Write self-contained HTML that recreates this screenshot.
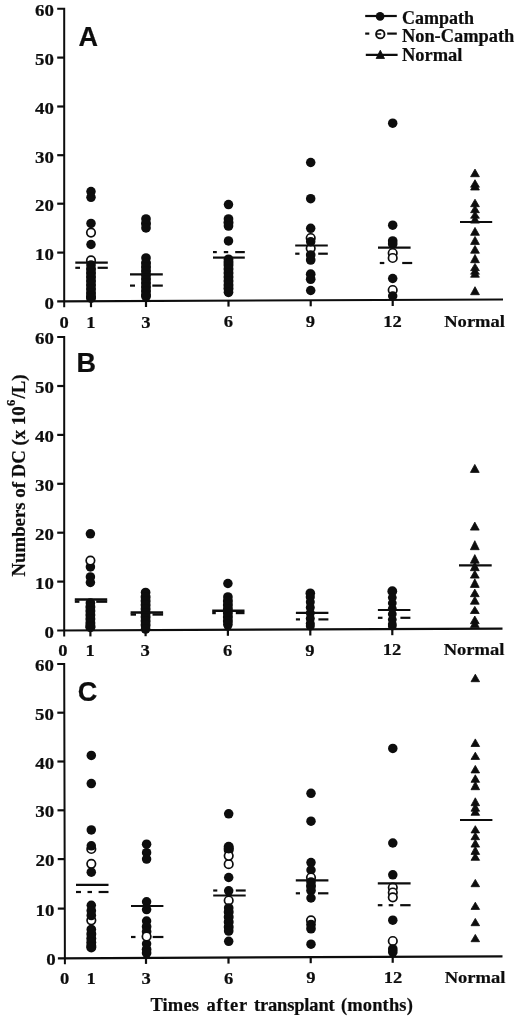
<!DOCTYPE html>
<html><head><meta charset="utf-8"><title>Figure</title>
<style>
html,body{margin:0;padding:0;background:#fff}
svg{display:block}
text{font-family:"Liberation Serif","DejaVu Serif",serif;font-weight:bold;fill:#0d0d0d;stroke:#0d0d0d;stroke-width:0.2px}
.pl{font-family:"Liberation Sans","DejaVu Sans",sans-serif;font-weight:bold}
</style></head><body>
<svg width="520" height="1020" viewBox="0 0 520 1020">
<rect width="520" height="1020" fill="#fff"/>
<g id="panelA">
<path d="M57.2 8.8H64.2L64.2 307.3" stroke="#0d0d0d" stroke-width="2.0" fill="none" stroke-linejoin="miter"/>
<path d="M57.2 301.3L503.0 299.5" stroke="#0d0d0d" stroke-width="2.2" fill="none"/>
<path d="M57.2 57.6H64.2" stroke="#0d0d0d" stroke-width="2.2" fill="none"/>
<path d="M57.2 106.5H64.2" stroke="#0d0d0d" stroke-width="2.2" fill="none"/>
<path d="M57.2 155.2H64.2" stroke="#0d0d0d" stroke-width="2.2" fill="none"/>
<path d="M57.2 203.7H64.2" stroke="#0d0d0d" stroke-width="2.2" fill="none"/>
<path d="M57.2 252.6H64.2" stroke="#0d0d0d" stroke-width="2.2" fill="none"/>
<text transform="translate(53.9 16.3) scale(1.08 1)" font-size="17.5" text-anchor="end" >60</text>
<text transform="translate(53.9 65.1) scale(1.08 1)" font-size="17.5" text-anchor="end" >50</text>
<text transform="translate(53.9 114.0) scale(1.08 1)" font-size="17.5" text-anchor="end" >40</text>
<text transform="translate(53.9 162.7) scale(1.08 1)" font-size="17.5" text-anchor="end" >30</text>
<text transform="translate(53.9 211.2) scale(1.08 1)" font-size="17.5" text-anchor="end" >20</text>
<text transform="translate(53.9 260.1) scale(1.08 1)" font-size="17.5" text-anchor="end" >10</text>
<text transform="translate(53.9 308.8) scale(1.08 1)" font-size="17.5" text-anchor="end" >0</text>
<path d="M91.0 301.2V307.2" stroke="#0d0d0d" stroke-width="2.2"/>
<path d="M146.0 301.0V307.0" stroke="#0d0d0d" stroke-width="2.2"/>
<path d="M228.5 300.6V306.6" stroke="#0d0d0d" stroke-width="2.2"/>
<path d="M310.7 300.3V306.3" stroke="#0d0d0d" stroke-width="2.2"/>
<path d="M392.7 300.0V306.0" stroke="#0d0d0d" stroke-width="2.2"/>
<text class="pl" x="78.4" y="46" font-size="27">A</text>
<text transform="translate(64.2 327.9) scale(1.06 1)" font-size="17.5" text-anchor="middle" >0</text>
<text transform="translate(90.8 327.8) scale(1.06 1)" font-size="17.5" text-anchor="middle" >1</text>
<text transform="translate(145.8 327.6) scale(1.06 1)" font-size="17.5" text-anchor="middle" >3</text>
<text transform="translate(228.3 327.4) scale(1.06 1)" font-size="17.5" text-anchor="middle" >6</text>
<text transform="translate(310.5 327.1) scale(1.06 1)" font-size="17.5" text-anchor="middle" >9</text>
<text transform="translate(392.5 326.9) scale(1.06 1)" font-size="17.5" text-anchor="middle" >12</text>
<text transform="translate(474.6 326.6) scale(1.06 1)" font-size="17.5" text-anchor="middle" >Normal</text>
<circle cx="91.0" cy="191.6" r="4.75" fill="#0d0d0d"/>
<circle cx="91.0" cy="197.3" r="4.75" fill="#0d0d0d"/>
<circle cx="91.0" cy="223.4" r="4.75" fill="#0d0d0d"/>
<circle cx="91.0" cy="244.5" r="4.75" fill="#0d0d0d"/>
<circle cx="91.0" cy="232.6" r="4.25" fill="#fff" stroke="#0d0d0d" stroke-width="1.7"/>
<circle cx="91.0" cy="260.4" r="4.25" fill="#fff" stroke="#0d0d0d" stroke-width="1.7"/>
<circle cx="91.0" cy="265.0" r="4.85" fill="#0d0d0d"/>
<circle cx="91.0" cy="269.0" r="5.0" fill="#0d0d0d"/>
<circle cx="91.0" cy="273.0" r="5.0" fill="#0d0d0d"/>
<circle cx="91.0" cy="277.0" r="5.0" fill="#0d0d0d"/>
<circle cx="91.0" cy="281.0" r="5.0" fill="#0d0d0d"/>
<circle cx="91.0" cy="285.0" r="5.0" fill="#0d0d0d"/>
<circle cx="91.0" cy="289.0" r="5.0" fill="#0d0d0d"/>
<circle cx="91.0" cy="293.0" r="5.0" fill="#0d0d0d"/>
<circle cx="91.0" cy="296.5" r="5.0" fill="#0d0d0d"/>
<circle cx="91.0" cy="298.0" r="5.0" fill="#0d0d0d"/>
<path d="M75.3 262.7H107.8" stroke="#0d0d0d" stroke-width="2.2" fill="none"/>
<path d="M75.3 267.8H80.0" stroke="#0d0d0d" stroke-width="2.2" fill="none"/>
<path d="M97.6 267.8H107.8" stroke="#0d0d0d" stroke-width="2.2" fill="none"/>
<circle cx="146.0" cy="219.0" r="4.85" fill="#0d0d0d"/>
<circle cx="146.0" cy="223.5" r="5.0" fill="#0d0d0d"/>
<circle cx="146.0" cy="227.9" r="4.85" fill="#0d0d0d"/>
<circle cx="146.0" cy="258.0" r="4.85" fill="#0d0d0d"/>
<circle cx="146.0" cy="263.0" r="5.0" fill="#0d0d0d"/>
<circle cx="146.0" cy="267.0" r="5.0" fill="#0d0d0d"/>
<circle cx="146.0" cy="271.0" r="5.0" fill="#0d0d0d"/>
<circle cx="146.0" cy="275.0" r="5.0" fill="#0d0d0d"/>
<circle cx="146.0" cy="279.0" r="5.0" fill="#0d0d0d"/>
<circle cx="146.0" cy="283.0" r="5.0" fill="#0d0d0d"/>
<circle cx="146.0" cy="287.0" r="5.0" fill="#0d0d0d"/>
<circle cx="146.0" cy="291.0" r="5.0" fill="#0d0d0d"/>
<circle cx="146.0" cy="295.0" r="5.0" fill="#0d0d0d"/>
<circle cx="146.0" cy="296.5" r="4.85" fill="#0d0d0d"/>
<path d="M130.0 274.4H162.8" stroke="#0d0d0d" stroke-width="2.2" fill="none"/>
<path d="M130.0 285.6H135.0" stroke="#0d0d0d" stroke-width="2.2" fill="none"/>
<path d="M152.3 285.6H162.8" stroke="#0d0d0d" stroke-width="2.2" fill="none"/>
<circle cx="228.5" cy="204.6" r="4.75" fill="#0d0d0d"/>
<circle cx="228.5" cy="219.0" r="4.85" fill="#0d0d0d"/>
<circle cx="228.5" cy="222.5" r="5.0" fill="#0d0d0d"/>
<circle cx="228.5" cy="226.0" r="4.85" fill="#0d0d0d"/>
<circle cx="228.5" cy="240.9" r="4.75" fill="#0d0d0d"/>
<circle cx="228.5" cy="259.3" r="4.85" fill="#0d0d0d"/>
<circle cx="228.5" cy="262.0" r="5.0" fill="#0d0d0d"/>
<circle cx="228.5" cy="265.0" r="5.0" fill="#0d0d0d"/>
<circle cx="228.5" cy="269.0" r="5.0" fill="#0d0d0d"/>
<circle cx="228.5" cy="273.0" r="5.0" fill="#0d0d0d"/>
<circle cx="228.5" cy="277.0" r="5.0" fill="#0d0d0d"/>
<circle cx="228.5" cy="281.0" r="5.0" fill="#0d0d0d"/>
<circle cx="228.5" cy="285.0" r="5.0" fill="#0d0d0d"/>
<circle cx="228.5" cy="288.5" r="5.0" fill="#0d0d0d"/>
<circle cx="228.5" cy="292.3" r="4.85" fill="#0d0d0d"/>
<path d="M213.0 252.1H216.8" stroke="#0d0d0d" stroke-width="2.2" fill="none"/>
<path d="M223.8 252.1H228.2" stroke="#0d0d0d" stroke-width="2.2" fill="none"/>
<path d="M235.2 252.1H244.8" stroke="#0d0d0d" stroke-width="2.2" fill="none"/>
<path d="M213.0 257.6H244.8" stroke="#0d0d0d" stroke-width="2.2" fill="none"/>
<circle cx="310.7" cy="162.5" r="4.75" fill="#0d0d0d"/>
<circle cx="310.7" cy="198.7" r="4.75" fill="#0d0d0d"/>
<circle cx="310.7" cy="228.3" r="4.75" fill="#0d0d0d"/>
<circle cx="310.7" cy="238.0" r="4.25" fill="#fff" stroke="#0d0d0d" stroke-width="1.7"/>
<circle cx="310.7" cy="248.3" r="4.25" fill="#fff" stroke="#0d0d0d" stroke-width="1.7"/>
<circle cx="310.7" cy="241.7" r="4.75" fill="#0d0d0d"/>
<circle cx="310.7" cy="255.0" r="4.85" fill="#0d0d0d"/>
<circle cx="310.7" cy="260.0" r="4.85" fill="#0d0d0d"/>
<circle cx="310.7" cy="274.2" r="4.85" fill="#0d0d0d"/>
<circle cx="310.7" cy="279.2" r="4.85" fill="#0d0d0d"/>
<circle cx="310.7" cy="290.5" r="4.75" fill="#0d0d0d"/>
<path d="M295.2 245.5H327.8" stroke="#0d0d0d" stroke-width="2.2" fill="none"/>
<path d="M295.2 253.7H299.5" stroke="#0d0d0d" stroke-width="2.2" fill="none"/>
<path d="M318.2 253.7H327.8" stroke="#0d0d0d" stroke-width="2.2" fill="none"/>
<circle cx="392.7" cy="123.2" r="4.75" fill="#0d0d0d"/>
<circle cx="392.7" cy="225.2" r="4.75" fill="#0d0d0d"/>
<circle cx="392.7" cy="241.0" r="4.85" fill="#0d0d0d"/>
<circle cx="392.7" cy="244.0" r="4.85" fill="#0d0d0d"/>
<circle cx="392.7" cy="278.5" r="4.75" fill="#0d0d0d"/>
<circle cx="392.7" cy="253.0" r="4.25" fill="#fff" stroke="#0d0d0d" stroke-width="1.7"/>
<circle cx="392.7" cy="258.0" r="4.25" fill="#fff" stroke="#0d0d0d" stroke-width="1.7"/>
<circle cx="392.7" cy="290.0" r="4.25" fill="#fff" stroke="#0d0d0d" stroke-width="1.7"/>
<circle cx="392.7" cy="296.0" r="4.75" fill="#0d0d0d"/>
<path d="M378.0 247.7H410.6" stroke="#0d0d0d" stroke-width="2.2" fill="none"/>
<path d="M379.8 263.0H384.3" stroke="#0d0d0d" stroke-width="2.2" fill="none"/>
<path d="M402.2 263.0H412.2" stroke="#0d0d0d" stroke-width="2.2" fill="none"/>
<path d="M475.0 169.1L479.4 176.7L470.6 176.7Z" fill="#0d0d0d" stroke="#0d0d0d" stroke-width="0.8" stroke-linejoin="round"/>
<path d="M475.0 179.7L479.4 187.2L470.6 187.2Z" fill="#0d0d0d" stroke="#0d0d0d" stroke-width="0.8" stroke-linejoin="round"/>
<path d="M475.0 182.4L479.4 190.0L470.6 190.0Z" fill="#0d0d0d" stroke="#0d0d0d" stroke-width="0.8" stroke-linejoin="round"/>
<path d="M475.0 199.2L479.4 206.7L470.6 206.7Z" fill="#0d0d0d" stroke="#0d0d0d" stroke-width="0.8" stroke-linejoin="round"/>
<path d="M475.0 205.4L479.4 212.7L470.6 212.7Z" fill="#0d0d0d" stroke="#0d0d0d" stroke-width="0.8" stroke-linejoin="round"/>
<path d="M475.0 211.4L479.4 218.2L470.6 218.2Z" fill="#0d0d0d" stroke="#0d0d0d" stroke-width="0.8" stroke-linejoin="round"/>
<path d="M475.0 215.4L479.4 223.1L470.6 223.1Z" fill="#0d0d0d" stroke="#0d0d0d" stroke-width="0.8" stroke-linejoin="round"/>
<path d="M475.0 227.4L479.4 235.3L470.6 235.3Z" fill="#0d0d0d" stroke="#0d0d0d" stroke-width="0.8" stroke-linejoin="round"/>
<path d="M475.0 236.4L479.4 244.4L470.6 244.4Z" fill="#0d0d0d" stroke="#0d0d0d" stroke-width="0.8" stroke-linejoin="round"/>
<path d="M475.0 245.4L479.4 253.2L470.6 253.2Z" fill="#0d0d0d" stroke="#0d0d0d" stroke-width="0.8" stroke-linejoin="round"/>
<path d="M475.0 254.4L479.4 262.7L470.6 262.7Z" fill="#0d0d0d" stroke="#0d0d0d" stroke-width="0.8" stroke-linejoin="round"/>
<path d="M475.0 263.4L479.4 270.7L470.6 270.7Z" fill="#0d0d0d" stroke="#0d0d0d" stroke-width="0.8" stroke-linejoin="round"/>
<path d="M475.0 267.9L479.4 274.2L470.6 274.2Z" fill="#0d0d0d" stroke="#0d0d0d" stroke-width="0.8" stroke-linejoin="round"/>
<path d="M475.0 270.4L479.4 277.2L470.6 277.2Z" fill="#0d0d0d" stroke="#0d0d0d" stroke-width="0.8" stroke-linejoin="round"/>
<path d="M475.0 286.7L479.4 294.7L470.6 294.7Z" fill="#0d0d0d" stroke="#0d0d0d" stroke-width="0.8" stroke-linejoin="round"/>
<path d="M460.0 222.0H492.2" stroke="#0d0d0d" stroke-width="2.2" fill="none"/>
</g>
<g id="legend">
<path d="M365.2 16.0H396.8" stroke="#0d0d0d" stroke-width="2.2" fill="none"/>
<circle cx="380.1" cy="16.4" r="4.3" fill="#0d0d0d"/>
<path d="M365.2 33.6H369.3" stroke="#0d0d0d" stroke-width="2.2" fill="none"/>
<path d="M387.2 33.6H396.8" stroke="#0d0d0d" stroke-width="2.2" fill="none"/>
<circle cx="380.3" cy="34.2" r="4.2" fill="#fff" stroke="#0d0d0d" stroke-width="1.9"/><path d="M376.8 34H381.2" stroke="#0d0d0d" stroke-width="1.5"/>
<path d="M365.8 54.9H397.6" stroke="#0d0d0d" stroke-width="2.2" fill="none"/>
<path d="M380.3 50.2L384.5 58.5L376.1 58.5Z" fill="#0d0d0d" stroke="#0d0d0d" stroke-width="0.8" stroke-linejoin="round"/>
<text transform="translate(401.9 24.1) scale(1.0 1)" font-size="18" text-anchor="start" textLength="72" lengthAdjust="spacingAndGlyphs">Campath</text>
<text transform="translate(401.9 41.5) scale(1.0 1)" font-size="18" text-anchor="start" textLength="112.4" lengthAdjust="spacingAndGlyphs">Non-Campath</text>
<text transform="translate(401.9 61.1) scale(1.0 1)" font-size="18" text-anchor="start" textLength="60.5" lengthAdjust="spacingAndGlyphs">Normal</text>
</g>
<g id="panelB">
<path d="M57.2 337.1H64.2L64.2 636.5" stroke="#0d0d0d" stroke-width="2.0" fill="none" stroke-linejoin="miter"/>
<path d="M57.2 630.5L502.5 628.7" stroke="#0d0d0d" stroke-width="2.2" fill="none"/>
<path d="M57.2 386.0H64.2" stroke="#0d0d0d" stroke-width="2.2" fill="none"/>
<path d="M57.2 434.9H64.2" stroke="#0d0d0d" stroke-width="2.2" fill="none"/>
<path d="M57.2 483.8H64.2" stroke="#0d0d0d" stroke-width="2.2" fill="none"/>
<path d="M57.2 532.7H64.2" stroke="#0d0d0d" stroke-width="2.2" fill="none"/>
<path d="M57.2 581.6H64.2" stroke="#0d0d0d" stroke-width="2.2" fill="none"/>
<text transform="translate(53.9 344.1) scale(1.08 1)" font-size="17.5" text-anchor="end" >60</text>
<text transform="translate(53.9 393.0) scale(1.08 1)" font-size="17.5" text-anchor="end" >50</text>
<text transform="translate(53.9 441.9) scale(1.08 1)" font-size="17.5" text-anchor="end" >40</text>
<text transform="translate(53.9 490.8) scale(1.08 1)" font-size="17.5" text-anchor="end" >30</text>
<text transform="translate(53.9 539.7) scale(1.08 1)" font-size="17.5" text-anchor="end" >20</text>
<text transform="translate(53.9 588.6) scale(1.08 1)" font-size="17.5" text-anchor="end" >10</text>
<text transform="translate(53.9 637.5) scale(1.08 1)" font-size="17.5" text-anchor="end" >0</text>
<path d="M90.4 630.4V636.4" stroke="#0d0d0d" stroke-width="2.2"/>
<path d="M145.6 630.2V636.2" stroke="#0d0d0d" stroke-width="2.2"/>
<path d="M227.9 629.8V635.8" stroke="#0d0d0d" stroke-width="2.2"/>
<path d="M310.3 629.5V635.5" stroke="#0d0d0d" stroke-width="2.2"/>
<path d="M392.3 629.2V635.2" stroke="#0d0d0d" stroke-width="2.2"/>
<text class="pl" x="76.6" y="372" font-size="27">B</text>
<text transform="translate(63.0 656.4) scale(1.06 1)" font-size="17.5" text-anchor="middle" >0</text>
<text transform="translate(90.2 656.3) scale(1.06 1)" font-size="17.5" text-anchor="middle" >1</text>
<text transform="translate(145.2 656.1) scale(1.06 1)" font-size="17.5" text-anchor="middle" >3</text>
<text transform="translate(227.7 655.8) scale(1.06 1)" font-size="17.5" text-anchor="middle" >6</text>
<text transform="translate(309.9 655.6) scale(1.06 1)" font-size="17.5" text-anchor="middle" >9</text>
<text transform="translate(391.9 655.3) scale(1.06 1)" font-size="17.5" text-anchor="middle" >12</text>
<text transform="translate(474.0 655.0) scale(1.06 1)" font-size="17.5" text-anchor="middle" >Normal</text>
<circle cx="90.4" cy="533.8" r="4.75" fill="#0d0d0d"/>
<circle cx="90.4" cy="566.9" r="4.75" fill="#0d0d0d"/>
<circle cx="90.4" cy="576.9" r="4.75" fill="#0d0d0d"/>
<circle cx="90.4" cy="582.5" r="4.75" fill="#0d0d0d"/>
<circle cx="90.4" cy="560.6" r="4.25" fill="#fff" stroke="#0d0d0d" stroke-width="1.7"/>
<circle cx="90.4" cy="603.0" r="4.85" fill="#0d0d0d"/>
<circle cx="90.4" cy="607.0" r="5.0" fill="#0d0d0d"/>
<circle cx="90.4" cy="611.0" r="5.0" fill="#0d0d0d"/>
<circle cx="90.4" cy="615.0" r="5.0" fill="#0d0d0d"/>
<circle cx="90.4" cy="619.0" r="5.0" fill="#0d0d0d"/>
<circle cx="90.4" cy="623.0" r="5.0" fill="#0d0d0d"/>
<circle cx="90.4" cy="626.0" r="5.0" fill="#0d0d0d"/>
<circle cx="90.4" cy="627.3" r="5.0" fill="#0d0d0d"/>
<path d="M74.8 599.4H107.2" stroke="#0d0d0d" stroke-width="2.5" fill="none"/>
<path d="M74.8 601.6H79.4" stroke="#0d0d0d" stroke-width="2.5" fill="none"/>
<path d="M96.2 601.6H107.2" stroke="#0d0d0d" stroke-width="2.5" fill="none"/>
<circle cx="145.6" cy="592.5" r="4.85" fill="#0d0d0d"/>
<circle cx="145.6" cy="597.0" r="5.0" fill="#0d0d0d"/>
<circle cx="145.6" cy="601.0" r="5.0" fill="#0d0d0d"/>
<circle cx="145.6" cy="605.0" r="5.0" fill="#0d0d0d"/>
<circle cx="145.6" cy="609.0" r="5.0" fill="#0d0d0d"/>
<circle cx="145.6" cy="613.0" r="5.0" fill="#0d0d0d"/>
<circle cx="145.6" cy="617.0" r="5.0" fill="#0d0d0d"/>
<circle cx="145.6" cy="621.0" r="5.0" fill="#0d0d0d"/>
<circle cx="145.6" cy="625.0" r="5.0" fill="#0d0d0d"/>
<circle cx="145.6" cy="629.0" r="4.85" fill="#0d0d0d"/>
<path d="M130.6 612.5H163.1" stroke="#0d0d0d" stroke-width="2.4" fill="none"/>
<path d="M130.6 614.5H136.0" stroke="#0d0d0d" stroke-width="2.4" fill="none"/>
<path d="M152.5 614.5H163.1" stroke="#0d0d0d" stroke-width="2.4" fill="none"/>
<circle cx="227.9" cy="583.5" r="4.75" fill="#0d0d0d"/>
<circle cx="227.9" cy="597.0" r="4.85" fill="#0d0d0d"/>
<circle cx="227.9" cy="601.0" r="5.0" fill="#0d0d0d"/>
<circle cx="227.9" cy="605.0" r="5.0" fill="#0d0d0d"/>
<circle cx="227.9" cy="609.0" r="5.0" fill="#0d0d0d"/>
<circle cx="227.9" cy="613.0" r="5.0" fill="#0d0d0d"/>
<circle cx="227.9" cy="617.0" r="5.0" fill="#0d0d0d"/>
<circle cx="227.9" cy="621.0" r="5.0" fill="#0d0d0d"/>
<circle cx="227.9" cy="624.5" r="4.85" fill="#0d0d0d"/>
<circle cx="227.9" cy="627.0" r="3.6" fill="#0d0d0d"/>
<path d="M212.2 610.8H244.5" stroke="#0d0d0d" stroke-width="2.4" fill="none"/>
<path d="M212.2 613.0H215.8" stroke="#0d0d0d" stroke-width="2.4" fill="none"/>
<path d="M235.8 613.0H244.5" stroke="#0d0d0d" stroke-width="2.4" fill="none"/>
<circle cx="310.3" cy="593.2" r="4.8" fill="#0d0d0d"/>
<circle cx="310.3" cy="597.0" r="4.6" fill="#0d0d0d"/>
<circle cx="310.3" cy="602.0" r="4.5" fill="#0d0d0d"/>
<circle cx="310.3" cy="607.5" r="4.5" fill="#0d0d0d"/>
<circle cx="310.3" cy="613.0" r="4.5" fill="#0d0d0d"/>
<circle cx="310.3" cy="618.5" r="4.5" fill="#0d0d0d"/>
<circle cx="310.3" cy="623.5" r="4.5" fill="#0d0d0d"/>
<circle cx="310.3" cy="626.0" r="4.5" fill="#0d0d0d"/>
<path d="M295.9 612.9H328.4" stroke="#0d0d0d" stroke-width="2.2" fill="none"/>
<path d="M295.9 619.4H300.0" stroke="#0d0d0d" stroke-width="2.2" fill="none"/>
<path d="M318.4 619.4H328.4" stroke="#0d0d0d" stroke-width="2.2" fill="none"/>
<circle cx="392.3" cy="591.2" r="4.9" fill="#0d0d0d"/>
<circle cx="392.3" cy="597.5" r="4.4" fill="#0d0d0d"/>
<circle cx="392.3" cy="603.0" r="4.4" fill="#0d0d0d"/>
<circle cx="392.3" cy="608.5" r="4.4" fill="#0d0d0d"/>
<circle cx="392.3" cy="614.0" r="4.4" fill="#0d0d0d"/>
<circle cx="392.3" cy="619.5" r="4.4" fill="#0d0d0d"/>
<circle cx="392.3" cy="624.0" r="4.4" fill="#0d0d0d"/>
<circle cx="392.3" cy="626.0" r="4.4" fill="#0d0d0d"/>
<path d="M377.9 610.0H410.4" stroke="#0d0d0d" stroke-width="2.2" fill="none"/>
<path d="M377.9 617.8H382.5" stroke="#0d0d0d" stroke-width="2.2" fill="none"/>
<path d="M400.4 617.8H410.4" stroke="#0d0d0d" stroke-width="2.2" fill="none"/>
<path d="M474.8 464.4L479.2 472.4L470.4 472.4Z" fill="#0d0d0d" stroke="#0d0d0d" stroke-width="0.8" stroke-linejoin="round"/>
<path d="M474.8 522.1L479.2 530.1L470.4 530.1Z" fill="#0d0d0d" stroke="#0d0d0d" stroke-width="0.8" stroke-linejoin="round"/>
<path d="M474.8 540.7L479.2 549.7L470.4 549.7Z" fill="#0d0d0d" stroke="#0d0d0d" stroke-width="0.8" stroke-linejoin="round"/>
<path d="M474.8 554.6L479.2 563.2L470.4 563.2Z" fill="#0d0d0d" stroke="#0d0d0d" stroke-width="0.8" stroke-linejoin="round"/>
<path d="M474.8 562.1L479.2 570.7L470.4 570.7Z" fill="#0d0d0d" stroke="#0d0d0d" stroke-width="0.8" stroke-linejoin="round"/>
<path d="M474.8 570.4L479.2 578.1L470.4 578.1Z" fill="#0d0d0d" stroke="#0d0d0d" stroke-width="0.8" stroke-linejoin="round"/>
<path d="M474.8 578.8L479.2 587.4L470.4 587.4Z" fill="#0d0d0d" stroke="#0d0d0d" stroke-width="0.8" stroke-linejoin="round"/>
<path d="M474.8 589.1L479.2 596.7L470.4 596.7Z" fill="#0d0d0d" stroke="#0d0d0d" stroke-width="0.8" stroke-linejoin="round"/>
<path d="M474.8 596.4L479.2 604.2L470.4 604.2Z" fill="#0d0d0d" stroke="#0d0d0d" stroke-width="0.8" stroke-linejoin="round"/>
<path d="M474.8 606.4L479.2 613.5L470.4 613.5Z" fill="#0d0d0d" stroke="#0d0d0d" stroke-width="0.8" stroke-linejoin="round"/>
<path d="M474.8 616.0L479.2 623.7L470.4 623.7Z" fill="#0d0d0d" stroke="#0d0d0d" stroke-width="0.8" stroke-linejoin="round"/>
<path d="M474.8 619.8L479.2 627.4L470.4 627.4Z" fill="#0d0d0d" stroke="#0d0d0d" stroke-width="0.8" stroke-linejoin="round"/>
<path d="M459.0 565.4H491.7" stroke="#0d0d0d" stroke-width="2.2" fill="none"/>
</g>
<g id="panelC">
<path d="M57.2 664.0H64.2L64.9 964.3" stroke="#0d0d0d" stroke-width="2.0" fill="none" stroke-linejoin="miter"/>
<path d="M57.9 958.3L502.5 956.3" stroke="#0d0d0d" stroke-width="2.2" fill="none"/>
<path d="M57.3 712.7H64.3" stroke="#0d0d0d" stroke-width="2.2" fill="none"/>
<path d="M57.4 761.5H64.4" stroke="#0d0d0d" stroke-width="2.2" fill="none"/>
<path d="M57.5 810.3H64.5" stroke="#0d0d0d" stroke-width="2.2" fill="none"/>
<path d="M57.7 859.1H64.7" stroke="#0d0d0d" stroke-width="2.2" fill="none"/>
<path d="M57.8 908.6H64.8" stroke="#0d0d0d" stroke-width="2.2" fill="none"/>
<text transform="translate(53.9 671.1) scale(1.08 1)" font-size="17.5" text-anchor="end" >60</text>
<text transform="translate(54.0 719.8) scale(1.08 1)" font-size="17.5" text-anchor="end" >50</text>
<text transform="translate(54.1 768.6) scale(1.08 1)" font-size="17.5" text-anchor="end" >40</text>
<text transform="translate(54.2 817.4) scale(1.08 1)" font-size="17.5" text-anchor="end" >30</text>
<text transform="translate(54.4 866.2) scale(1.08 1)" font-size="17.5" text-anchor="end" >20</text>
<text transform="translate(54.5 915.7) scale(1.08 1)" font-size="17.5" text-anchor="end" >10</text>
<text transform="translate(55.8 965.4) scale(1.08 1)" font-size="17.5" text-anchor="end" >0</text>
<path d="M146.0 957.9V963.9" stroke="#0d0d0d" stroke-width="2.2"/>
<path d="M228.5 957.6V963.6" stroke="#0d0d0d" stroke-width="2.2"/>
<path d="M310.7 957.2V963.2" stroke="#0d0d0d" stroke-width="2.2"/>
<path d="M392.7 956.8V962.8" stroke="#0d0d0d" stroke-width="2.2"/>
<text class="pl" x="77.8" y="700.6" font-size="27">C</text>
<text transform="translate(64.6 984.4) scale(1.06 1)" font-size="17.5" text-anchor="middle" >0</text>
<text transform="translate(91.2 984.3) scale(1.06 1)" font-size="17.5" text-anchor="middle" >1</text>
<text transform="translate(146.2 984.1) scale(1.06 1)" font-size="17.5" text-anchor="middle" >3</text>
<text transform="translate(228.7 983.8) scale(1.06 1)" font-size="17.5" text-anchor="middle" >6</text>
<text transform="translate(310.9 983.4) scale(1.06 1)" font-size="17.5" text-anchor="middle" >9</text>
<text transform="translate(392.9 983.1) scale(1.06 1)" font-size="17.5" text-anchor="middle" >12</text>
<text transform="translate(475.0 982.8) scale(1.06 1)" font-size="17.5" text-anchor="middle" >Normal</text>
<circle cx="91.3" cy="755.4" r="4.75" fill="#0d0d0d"/>
<circle cx="91.3" cy="783.6" r="4.75" fill="#0d0d0d"/>
<circle cx="91.3" cy="829.9" r="4.75" fill="#0d0d0d"/>
<circle cx="91.3" cy="849.0" r="4.25" fill="#fff" stroke="#0d0d0d" stroke-width="1.7"/>
<circle cx="91.3" cy="845.8" r="4.75" fill="#0d0d0d"/>
<circle cx="91.3" cy="863.8" r="4.25" fill="#fff" stroke="#0d0d0d" stroke-width="1.7"/>
<circle cx="91.3" cy="872.2" r="4.75" fill="#0d0d0d"/>
<path d="M76.0 884.8H108.5" stroke="#0d0d0d" stroke-width="2.2" fill="none"/>
<path d="M76.0 892.0H81.0" stroke="#0d0d0d" stroke-width="2.2" fill="none"/>
<path d="M87.5 892.0H92.0" stroke="#0d0d0d" stroke-width="2.2" fill="none"/>
<path d="M98.6 892.0H108.5" stroke="#0d0d0d" stroke-width="2.2" fill="none"/>
<circle cx="91.3" cy="905.3" r="4.75" fill="#0d0d0d"/>
<circle cx="91.3" cy="910.8" r="4.85" fill="#0d0d0d"/>
<circle cx="91.3" cy="920.3" r="4.25" fill="#fff" stroke="#0d0d0d" stroke-width="1.7"/>
<circle cx="91.3" cy="915.5" r="4.85" fill="#0d0d0d"/>
<circle cx="91.3" cy="929.5" r="4.85" fill="#0d0d0d"/>
<circle cx="91.3" cy="934.0" r="5.0" fill="#0d0d0d"/>
<circle cx="91.3" cy="938.5" r="5.0" fill="#0d0d0d"/>
<circle cx="91.3" cy="942.5" r="5.0" fill="#0d0d0d"/>
<circle cx="91.3" cy="946.0" r="5.0" fill="#0d0d0d"/>
<circle cx="91.3" cy="947.5" r="5.0" fill="#0d0d0d"/>
<circle cx="146.6" cy="844.2" r="4.75" fill="#0d0d0d"/>
<circle cx="146.6" cy="852.7" r="4.75" fill="#0d0d0d"/>
<circle cx="146.6" cy="859.1" r="4.75" fill="#0d0d0d"/>
<circle cx="146.6" cy="901.8" r="4.75" fill="#0d0d0d"/>
<circle cx="146.6" cy="909.6" r="4.75" fill="#0d0d0d"/>
<circle cx="146.6" cy="921.0" r="4.75" fill="#0d0d0d"/>
<circle cx="146.6" cy="926.7" r="4.85" fill="#0d0d0d"/>
<circle cx="146.6" cy="931.7" r="4.85" fill="#0d0d0d"/>
<circle cx="146.6" cy="943.8" r="4.75" fill="#0d0d0d"/>
<circle cx="146.6" cy="949.4" r="4.85" fill="#0d0d0d"/>
<circle cx="146.6" cy="953.0" r="4.85" fill="#0d0d0d"/>
<circle cx="146.6" cy="936.5" r="4.25" fill="#fff" stroke="#0d0d0d" stroke-width="1.7"/>
<path d="M131.0 906.0H163.4" stroke="#0d0d0d" stroke-width="2.2" fill="none"/>
<path d="M131.0 937.0H135.5" stroke="#0d0d0d" stroke-width="2.2" fill="none"/>
<path d="M152.7 937.0H163.4" stroke="#0d0d0d" stroke-width="2.2" fill="none"/>
<circle cx="228.7" cy="813.8" r="4.75" fill="#0d0d0d"/>
<circle cx="228.7" cy="846.7" r="5.0" fill="#0d0d0d"/>
<circle cx="228.7" cy="850.0" r="5.0" fill="#0d0d0d"/>
<circle cx="228.7" cy="877.5" r="4.75" fill="#0d0d0d"/>
<circle cx="228.7" cy="890.8" r="4.75" fill="#0d0d0d"/>
<circle cx="228.7" cy="864.2" r="4.25" fill="#fff" stroke="#0d0d0d" stroke-width="1.7"/>
<circle cx="228.7" cy="855.8" r="4.25" fill="#fff" stroke="#0d0d0d" stroke-width="1.7"/>
<circle cx="228.7" cy="848.5" r="5.0" fill="#0d0d0d"/>
<path d="M213.2 890.5H217.3" stroke="#0d0d0d" stroke-width="2.2" fill="none"/>
<path d="M235.8 890.5H245.7" stroke="#0d0d0d" stroke-width="2.2" fill="none"/>
<path d="M213.2 895.5H245.7" stroke="#0d0d0d" stroke-width="2.2" fill="none"/>
<circle cx="228.7" cy="900.5" r="4.25" fill="#fff" stroke="#0d0d0d" stroke-width="1.7"/>
<circle cx="228.7" cy="908.0" r="4.85" fill="#0d0d0d"/>
<circle cx="228.7" cy="912.0" r="5.0" fill="#0d0d0d"/>
<circle cx="228.7" cy="917.0" r="5.0" fill="#0d0d0d"/>
<circle cx="228.7" cy="922.0" r="5.0" fill="#0d0d0d"/>
<circle cx="228.7" cy="927.0" r="5.0" fill="#0d0d0d"/>
<circle cx="228.7" cy="931.0" r="4.85" fill="#0d0d0d"/>
<circle cx="228.7" cy="941.3" r="4.75" fill="#0d0d0d"/>
<circle cx="311.0" cy="793.3" r="4.75" fill="#0d0d0d"/>
<circle cx="311.0" cy="821.2" r="4.75" fill="#0d0d0d"/>
<circle cx="311.0" cy="862.6" r="4.75" fill="#0d0d0d"/>
<circle cx="311.0" cy="870.0" r="4.75" fill="#0d0d0d"/>
<circle cx="311.0" cy="877.5" r="4.25" fill="#fff" stroke="#0d0d0d" stroke-width="1.7"/>
<circle cx="311.0" cy="882.0" r="4.85" fill="#0d0d0d"/>
<circle cx="311.0" cy="886.0" r="5.0" fill="#0d0d0d"/>
<circle cx="311.0" cy="890.5" r="4.85" fill="#0d0d0d"/>
<circle cx="311.0" cy="898.0" r="4.75" fill="#0d0d0d"/>
<path d="M295.8 880.3H328.4" stroke="#0d0d0d" stroke-width="2.2" fill="none"/>
<path d="M295.8 893.3H300.0" stroke="#0d0d0d" stroke-width="2.2" fill="none"/>
<path d="M318.0 893.3H328.4" stroke="#0d0d0d" stroke-width="2.2" fill="none"/>
<circle cx="311.0" cy="920.3" r="4.25" fill="#fff" stroke="#0d0d0d" stroke-width="1.7"/>
<circle cx="311.0" cy="924.5" r="4.85" fill="#0d0d0d"/>
<circle cx="311.0" cy="928.7" r="4.85" fill="#0d0d0d"/>
<circle cx="311.0" cy="944.2" r="4.75" fill="#0d0d0d"/>
<circle cx="392.8" cy="748.4" r="4.75" fill="#0d0d0d"/>
<circle cx="392.8" cy="843.0" r="4.75" fill="#0d0d0d"/>
<circle cx="392.8" cy="874.8" r="4.75" fill="#0d0d0d"/>
<circle cx="392.8" cy="887.5" r="4.25" fill="#fff" stroke="#0d0d0d" stroke-width="1.7"/>
<circle cx="392.8" cy="892.5" r="4.25" fill="#fff" stroke="#0d0d0d" stroke-width="1.7"/>
<circle cx="392.8" cy="897.3" r="4.25" fill="#fff" stroke="#0d0d0d" stroke-width="1.7"/>
<path d="M377.8 883.3H410.6" stroke="#0d0d0d" stroke-width="2.2" fill="none"/>
<path d="M377.8 905.2H382.4" stroke="#0d0d0d" stroke-width="2.2" fill="none"/>
<path d="M388.7 905.2H393.3" stroke="#0d0d0d" stroke-width="2.2" fill="none"/>
<path d="M400.2 905.2H410.6" stroke="#0d0d0d" stroke-width="2.2" fill="none"/>
<circle cx="392.8" cy="920.2" r="4.75" fill="#0d0d0d"/>
<circle cx="392.8" cy="941.0" r="4.25" fill="#fff" stroke="#0d0d0d" stroke-width="1.7"/>
<circle cx="392.8" cy="949.0" r="4.85" fill="#0d0d0d"/>
<circle cx="392.8" cy="952.0" r="4.85" fill="#0d0d0d"/>
<path d="M475.3 674.2L479.6 681.7L471.0 681.7Z" fill="#0d0d0d" stroke="#0d0d0d" stroke-width="0.8" stroke-linejoin="round"/>
<path d="M475.3 738.9L479.6 746.5L471.0 746.5Z" fill="#0d0d0d" stroke="#0d0d0d" stroke-width="0.8" stroke-linejoin="round"/>
<path d="M475.3 752.2L479.6 759.4L471.0 759.4Z" fill="#0d0d0d" stroke="#0d0d0d" stroke-width="0.8" stroke-linejoin="round"/>
<path d="M475.3 765.4L479.6 772.9L471.0 772.9Z" fill="#0d0d0d" stroke="#0d0d0d" stroke-width="0.8" stroke-linejoin="round"/>
<path d="M475.3 774.8L479.6 782.3L471.0 782.3Z" fill="#0d0d0d" stroke="#0d0d0d" stroke-width="0.8" stroke-linejoin="round"/>
<path d="M475.3 781.4L479.6 789.7L471.0 789.7Z" fill="#0d0d0d" stroke="#0d0d0d" stroke-width="0.8" stroke-linejoin="round"/>
<path d="M475.3 797.8L479.6 805.7L471.0 805.7Z" fill="#0d0d0d" stroke="#0d0d0d" stroke-width="0.8" stroke-linejoin="round"/>
<path d="M475.3 803.4L479.6 811.2L471.0 811.2Z" fill="#0d0d0d" stroke="#0d0d0d" stroke-width="0.8" stroke-linejoin="round"/>
<path d="M475.3 808.0L479.6 815.3L471.0 815.3Z" fill="#0d0d0d" stroke="#0d0d0d" stroke-width="0.8" stroke-linejoin="round"/>
<path d="M475.3 825.7L479.6 832.9L471.0 832.9Z" fill="#0d0d0d" stroke="#0d0d0d" stroke-width="0.8" stroke-linejoin="round"/>
<path d="M475.3 832.4L479.6 839.7L471.0 839.7Z" fill="#0d0d0d" stroke="#0d0d0d" stroke-width="0.8" stroke-linejoin="round"/>
<path d="M475.3 839.4L479.6 847.1L471.0 847.1Z" fill="#0d0d0d" stroke="#0d0d0d" stroke-width="0.8" stroke-linejoin="round"/>
<path d="M475.3 846.4L479.6 854.4L471.0 854.4Z" fill="#0d0d0d" stroke="#0d0d0d" stroke-width="0.8" stroke-linejoin="round"/>
<path d="M475.3 853.0L479.6 860.3L471.0 860.3Z" fill="#0d0d0d" stroke="#0d0d0d" stroke-width="0.8" stroke-linejoin="round"/>
<path d="M475.3 879.4L479.6 886.7L471.0 886.7Z" fill="#0d0d0d" stroke="#0d0d0d" stroke-width="0.8" stroke-linejoin="round"/>
<path d="M475.3 902.2L479.6 909.4L471.0 909.4Z" fill="#0d0d0d" stroke="#0d0d0d" stroke-width="0.8" stroke-linejoin="round"/>
<path d="M475.3 918.4L479.6 925.7L471.0 925.7Z" fill="#0d0d0d" stroke="#0d0d0d" stroke-width="0.8" stroke-linejoin="round"/>
<path d="M475.3 934.4L479.6 941.7L471.0 941.7Z" fill="#0d0d0d" stroke="#0d0d0d" stroke-width="0.8" stroke-linejoin="round"/>
<path d="M460.0 820.0H492.4" stroke="#0d0d0d" stroke-width="2.2" fill="none"/>
</g>
<text x="150.4" y="1011.2" font-size="18.5" textLength="48.6" lengthAdjust="spacing">Times</text>
<text x="206.6" y="1011.2" font-size="18.5" textLength="40.6" lengthAdjust="spacing">after</text>
<text x="253.9" y="1011.2" font-size="18.5" textLength="80.8" lengthAdjust="spacing">transplant</text>
<text x="341.0" y="1011.2" font-size="18.5" textLength="71.8" lengthAdjust="spacing">(months)</text>
<text transform="translate(25.2 576.5) rotate(-90)" font-size="18.8">Numbers of DC (x 10<tspan font-size="12.5" dy="-10" dx="0.5">6</tspan><tspan dy="10" dx="1.2">/L)</tspan></text>
</svg></body></html>
